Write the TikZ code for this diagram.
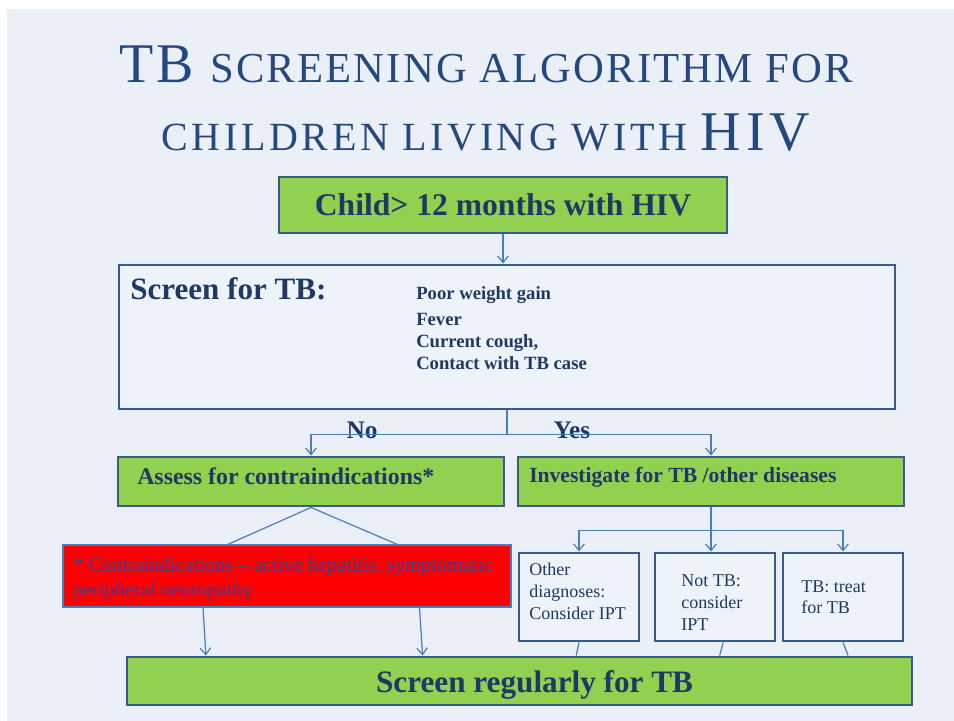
\documentclass[tikz,border=0pt]{standalone}
\usepackage{fontspec}
\setmainfont{Liberation Serif}
\newfontfamily\titlefontA[LetterSpace=5]{Liberation Serif}
\newfontfamily\titlefontB[LetterSpace=9]{Liberation Serif}
\usepackage{tikz}
\usetikzlibrary{arrows.meta, positioning, calc}
\definecolor{slidebg}{RGB}{235, 240, 248}
\definecolor{boxbg}{RGB}{238, 243, 250}
\definecolor{limegreen}{RGB}{146, 208, 80}
\definecolor{frameblue}{RGB}{56, 93, 138}
\definecolor{linkblue}{RGB}{74, 126, 187}
\definecolor{titleblue}{RGB}{37, 72, 128}
\definecolor{textnavy}{RGB}{31, 56, 100}
\definecolor{alertred}{RGB}{255, 0, 0}
\definecolor{alerttext}{RGB}{62, 64, 145}

\tikzset{
  greenbox/.style={draw=frameblue, line width=2.2pt, fill=limegreen, inner sep=0pt},
  plainbox/.style={draw=frameblue, line width=2.2pt, fill=boxbg, inner sep=0pt},
  redbox/.style={draw=linkblue, line width=0.8pt, fill=alertred, inner sep=0pt},
  conn/.style={draw=linkblue, line width=0.9pt},
  arr/.style={conn, -{Straight Barb[length=5pt, width=8pt]}},
  boldtxt/.style={text=textnavy, inner sep=0pt},
  listtxt/.style={text=textnavy, inner sep=0pt, align=left},
}

\begin{document}
\begin{tikzpicture}[x=0.75pt, y=-0.75pt]
    % Slide
    \useasboundingbox (0,0) rectangle (954,721);
    \fill[slidebg] (7,9) rectangle (954,721);

    % Title
    \node[anchor=base, text=titleblue, inner sep=0pt] (title1) at (486,82)
        {\titlefontA\fontsize{42}{42}\selectfont TB \fontsize{32}{32}\selectfont SCREENING ALGORITHM FOR};
    \node[anchor=base, text=titleblue, inner sep=0pt] (title2) at (486,150)
        {\titlefontB\fontsize{30}{30}\selectfont CHILDREN LIVING WITH \fontsize{42}{42}\selectfont HIV};

    % Boxes
    \node[greenbox, minimum width=336pt, minimum height=42pt] (child) at (503,205) {};
    \node[plainbox, minimum width=582pt, minimum height=108pt] (screen) at (507,337) {};
    \node[greenbox, minimum width=289.5pt, minimum height=36.75pt] (assess) at (311,481.5) {};
    \node[greenbox, minimum width=289.5pt, minimum height=36.75pt] (invest) at (711,481.5) {};
    \node[redbox, minimum width=336pt, minimum height=46.5pt] (contra) at (287,576) {};
    \node[greenbox, minimum width=588.75pt, minimum height=36pt] (regular) at (519.5,681) {};
    \node[plainbox, minimum width=90pt, minimum height=66pt] (other) at (579,597) {};
    \node[plainbox, minimum width=90pt, minimum height=66pt] (nottb) at (715,597) {};
    \node[plainbox, minimum width=90pt, minimum height=66pt] (treat) at (843,597) {};

    % Texts
    \node[boldtxt, anchor=base, font=\bfseries\fontsize{23.7}{27}\selectfont] (childtxt) at (503,215) {Child> 12 months with HIV};
    \node[boldtxt, anchor=base west, font=\bfseries\fontsize{23.3}{28}\selectfont] (screentxt) at (130,299) {Screen for TB:};
    \node[listtxt, anchor=north west, font=\bfseries\fontsize{14}{16.5}\selectfont] (symptoms) at (416,286)
        {Poor weight gain\\[3.5pt] Fever\\ Current cough,\\ Contact with TB case};
    \node[boldtxt, anchor=base, font=\bfseries\fontsize{19}{22}\selectfont] (notxt) at (362,438) {No};
    \node[boldtxt, anchor=base, font=\bfseries\fontsize{19}{22}\selectfont] (yestxt) at (572,438) {Yes};
    \node[boldtxt, anchor=base west, font=\bfseries\fontsize{17.9}{21}\selectfont] (assesstxt) at (137,484) {Assess for contraindications*};
    \node[boldtxt, anchor=base west, font=\bfseries\fontsize{16.2}{20}\selectfont] (investtxt) at (529,482) {Investigate for TB /other diseases};
    \node[listtxt, text=alerttext, anchor=north west, font=\fontsize{15.3}{18.75}\selectfont] (contratxt) at (73,557)
        {* Contraindications -- active hepatitis, symptomatic\\ peripheral neuropathy};
    \node[boldtxt, anchor=base, font=\bfseries\fontsize{23.4}{27}\selectfont] (regulartxt) at (534.5,692) {Screen regularly for TB};
    \node[listtxt, anchor=north west, font=\fontsize{13.5}{16.5}\selectfont] (othertxt) at (529,563)
        {Other\\ diagnoses:\\ Consider IPT};
    \node[listtxt, anchor=north west, font=\fontsize{13.5}{16.5}\selectfont] (nottbtxt) at (681,574)
        {Not TB:\\ consider\\ IPT};
    \node[listtxt, anchor=north west, font=\fontsize{13.5}{16}\selectfont] (treattxt) at (801,580)
        {TB: treat\\ for TB};

    % Connectors
    \draw[arr] (child.south) -- (child.south |- screen.north);
    \draw[conn] (screen.south) -- ++(0,24) coordinate (split);
    \draw[arr] (split) -| (assess.north);
    \draw[arr] (split) -| (invest.north);

    \draw[conn] (assess.south) -- ($(contra.north west)!0.368!(contra.north east)$);
    \draw[conn] (assess.south) -- ($(contra.north west)!0.746!(contra.north east)$);
    \draw[arr] ($(contra.south west)!0.313!(contra.south east)$) -- ($(regular.north west)!0.102!(regular.north east)$);
    \draw[arr] ($(contra.south west)!0.795!(contra.south east)$) -- ($(regular.north west)!0.377!(regular.north east)$);

    \draw[conn] (invest.south) -- ++(0,23) coordinate (split2);
    \draw[arr] (split2) -| (other.north);
    \draw[arr] (split2) -- (split2 |- nottb.north);
    \draw[arr] (split2) -| (treat.north);

    \draw[conn] (other.south) -- ($(regular.north west)!0.572!(regular.north east)$);
    \draw[conn] ($(nottb.south west)!0.567!(nottb.south east)$) -- ($(regular.north west)!0.754!(regular.north east)$);
    \draw[conn] (treat.south) -- ($(regular.north west)!0.917!(regular.north east)$);
\end{tikzpicture}
\end{document}
